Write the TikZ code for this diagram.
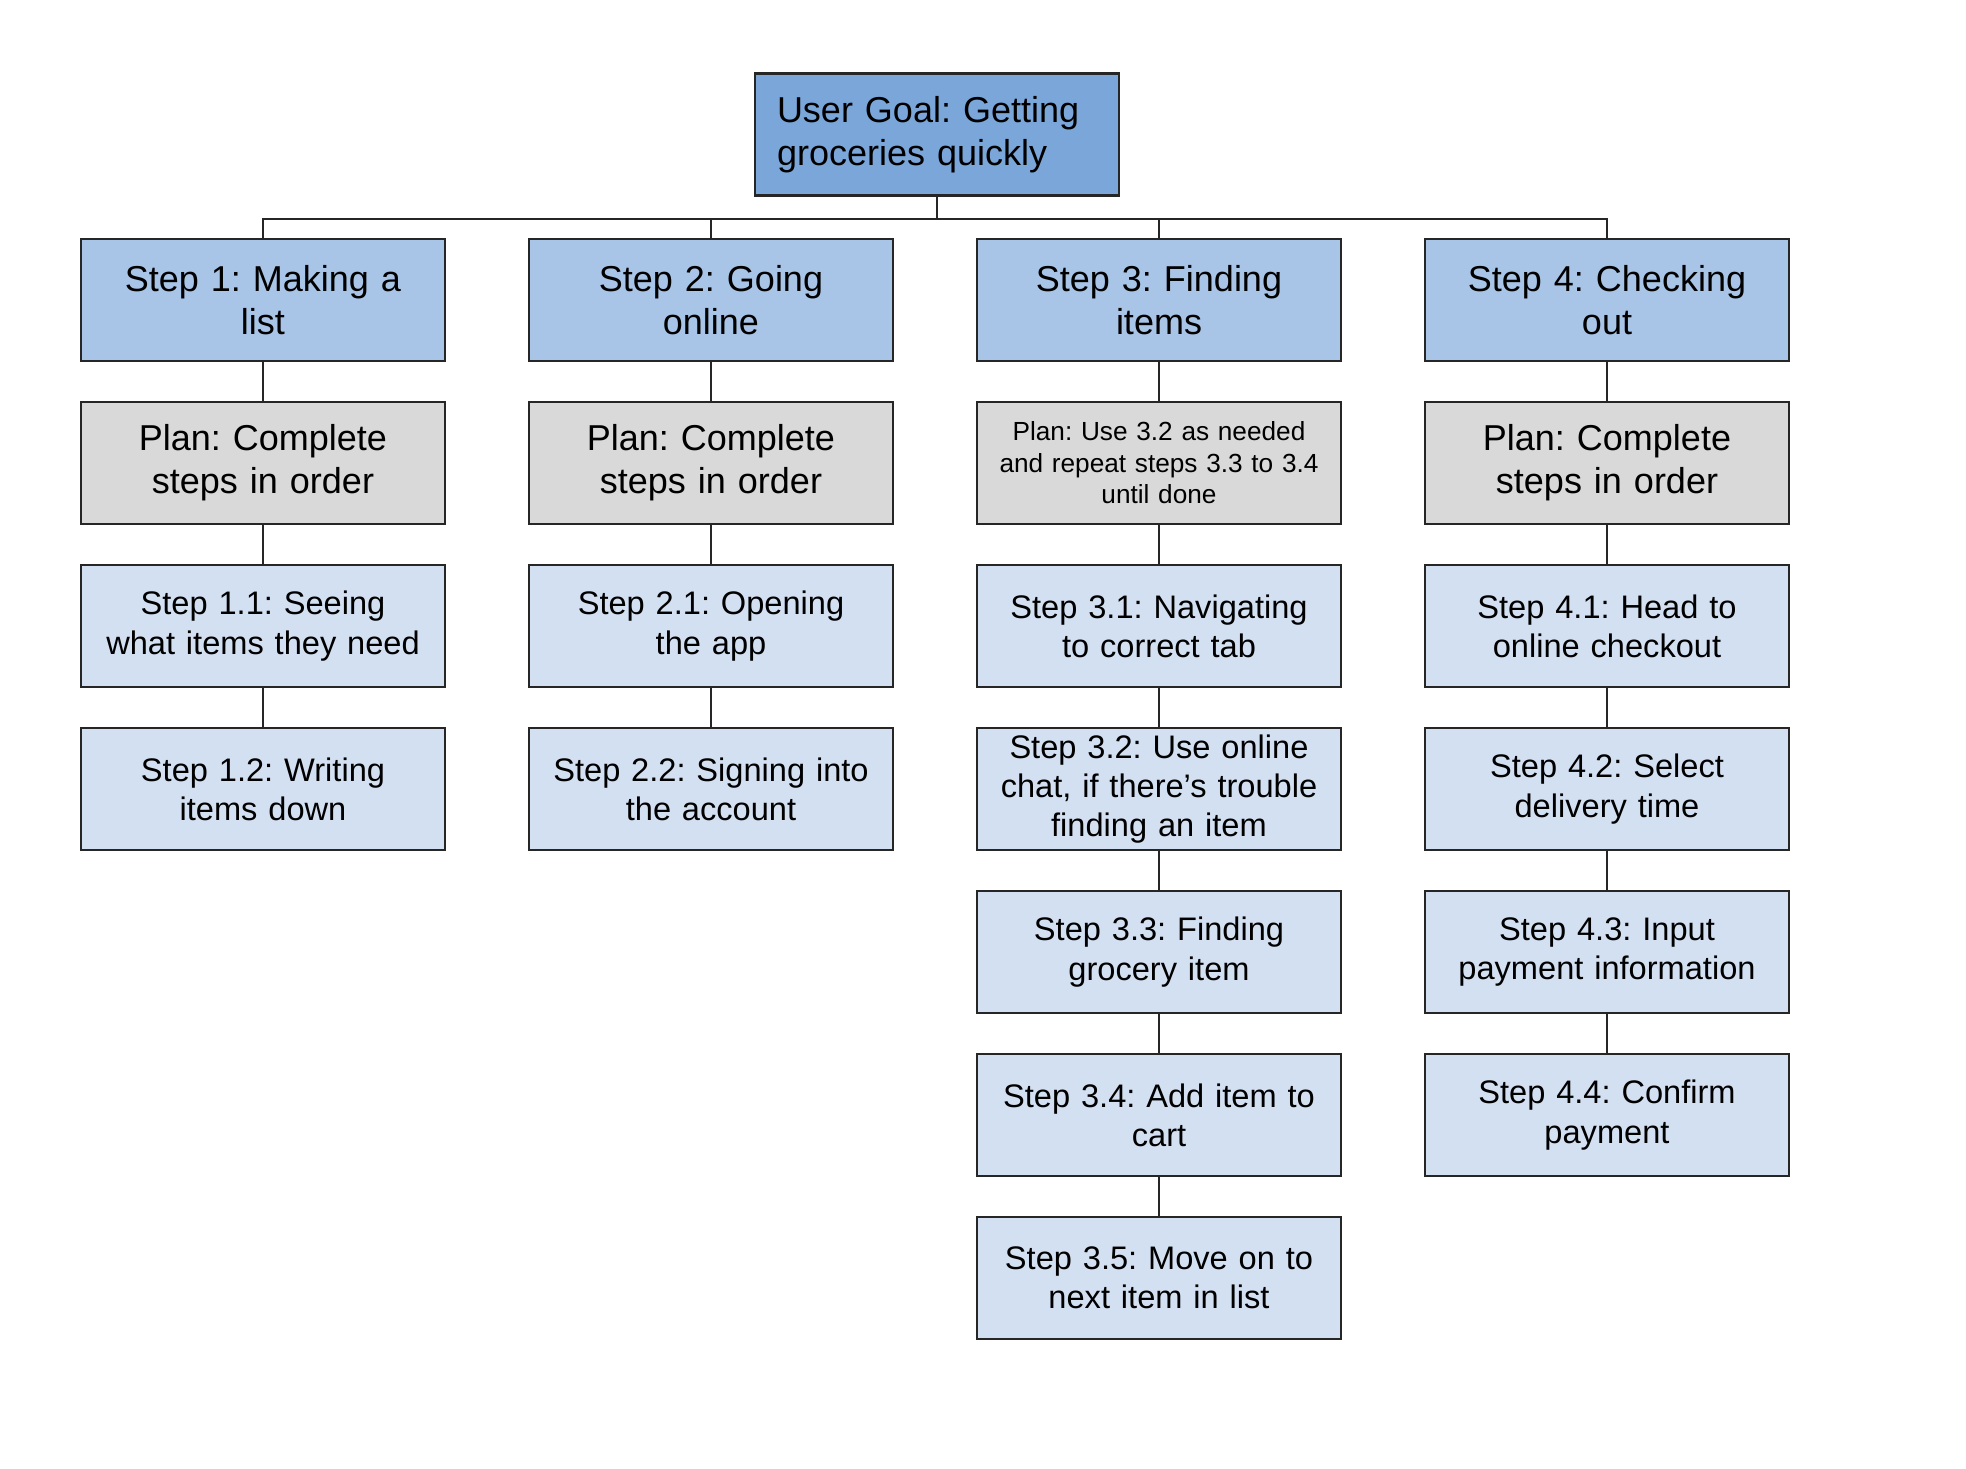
\documentclass[tikz,border=0pt]{standalone}
\usepackage{fontspec}
\setmainfont{Liberation Sans}
\frenchspacing
\usetikzlibrary{positioning}
\definecolor{goalblue}{RGB}{122,166,218}
\definecolor{stepblue}{RGB}{168,196,230}
\definecolor{subblue}{RGB}{211,224,242}
\definecolor{plangrey}{RGB}{217,217,217}
\tikzset{
  box/.style={draw=black!85, line width=1.1pt, minimum width=182pt, minimum height=61pt,
    inner sep=0pt, text width=170pt, align=center},
  goalbox/.style={box, fill=goalblue, text width=160pt, align=left,
    font=\fontsize{18pt}{21.6pt}\selectfont},
  stepbox/.style={box, fill=stepblue, font=\fontsize{18pt}{21.6pt}\selectfont},
  planbox/.style={box, fill=plangrey, font=\fontsize{18pt}{21.6pt}\selectfont},
  smallplan/.style={box, fill=plangrey, font=\fontsize{13.1pt}{15.7pt}\selectfont},
  subbox/.style={box, fill=subblue, font=\fontsize{16.3pt}{19.6pt}\selectfont},
  link/.style={draw=black!85, line width=1pt}
}
\begin{document}
\begin{tikzpicture}[node distance=81.5pt and 224pt, on grid]
  \useasboundingbox (-131.5pt,150pt) rectangle (851.5pt,-584pt);

  \node[goalbox] (goal) at (337pt,82.75pt) {User Goal: Getting\\groceries quickly};

  % top level steps
  \node[stepbox] (s1) at (0,0) {Step 1: Making a\\list};
  \node[stepbox] (s2) [right=of s1] {Step 2: Going\\online};
  \node[stepbox] (s3) [right=of s2] {Step 3: Finding\\items};
  \node[stepbox] (s4) [right=of s3] {Step 4: Checking\\out};

  % plans
  \node[planbox] (p1) [below=of s1] {Plan: Complete\\steps in order};
  \node[planbox] (p2) [below=of s2] {Plan: Complete\\steps in order};
  \node[smallplan] (p3) [below=of s3] {Plan: Use 3.2 as needed\\and repeat steps 3.3 to 3.4\\until done};
  \node[planbox] (p4) [below=of s4] {Plan: Complete\\steps in order};

  % sub steps
  \node[subbox] (s11) [below=of p1] {Step 1.1: Seeing\\what items they need};
  \node[subbox] (s12) [below=of s11] {Step 1.2: Writing\\items down};

  \node[subbox] (s21) [below=of p2] {Step 2.1: Opening\\the app};
  \node[subbox] (s22) [below=of s21] {Step 2.2: Signing into\\the account};

  \node[subbox] (s31) [below=of p3] {Step 3.1: Navigating\\to correct tab};
  \node[subbox] (s32) [below=of s31] {Step 3.2: Use online\\chat, if there’s trouble\\finding an item};
  \node[subbox] (s33) [below=of s32] {Step 3.3: Finding\\grocery item};
  \node[subbox] (s34) [below=of s33] {Step 3.4: Add item to\\cart};
  \node[subbox] (s35) [below=of s34] {Step 3.5: Move on to\\next item in list};

  \node[subbox] (s41) [below=of p4] {Step 4.1: Head to\\online checkout};
  \node[subbox] (s42) [below=of s41] {Step 4.2: Select\\delivery time};
  \node[subbox] (s43) [below=of s42] {Step 4.3: Input\\payment information};
  \node[subbox] (s44) [below=of s43] {Step 4.4: Confirm\\payment};

  % tree bus
  \coordinate (bus) at ([yshift=-11pt]goal.south);
  \draw[link] (goal.south) -- (bus) -| (s1.north);
  \draw[link] (bus) -| (s2.north);
  \draw[link] (bus) -| (s3.north);
  \draw[link] (bus) -| (s4.north);

  \path[link]
  (s1) edge (p1)
  (p1) edge (s11)
  (s11) edge (s12)
  (s2) edge (p2)
  (p2) edge (s21)
  (s21) edge (s22)
  (s3) edge (p3)
  (p3) edge (s31)
  (s31) edge (s32)
  (s32) edge (s33)
  (s33) edge (s34)
  (s34) edge (s35)
  (s4) edge (p4)
  (p4) edge (s41)
  (s41) edge (s42)
  (s42) edge (s43)
  (s43) edge (s44)
  ;
\end{tikzpicture}
\end{document}
